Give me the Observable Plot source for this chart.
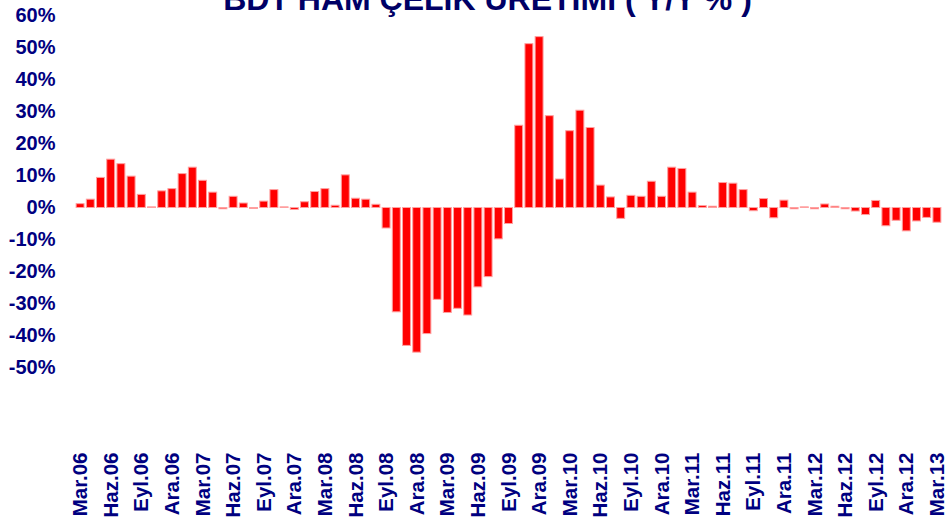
<!DOCTYPE html>
<html>
<head>
<meta charset="utf-8">
<script src="https://cdn.jsdelivr.net/npm/d3@7"></script>
<script src="https://cdn.jsdelivr.net/npm/@observablehq/plot@0.6"></script>
<style>
  html, body { margin: 0; padding: 0; background: #fff; overflow: hidden; }
  #wrap { position: relative; width: 947px; height: 525px; }
  #title { position: absolute; left: 0; width: 975px; top: -17px; text-align: center;
    font-family: "Liberation Sans", Arial, sans-serif; font-weight: bold; font-size: 32px;
    line-height: 32px; color: #000066; white-space: nowrap; z-index: 2; }
</style>
</head>
<body>
<div id="wrap"><div id="title">BDT HAM ÇELİK ÜRETİMİ ( Y/Y % )</div></div>
<script>
const months = [
  "Mar.06","Nis.06","May.06","Haz.06","Tem.06","Ağu.06","Eyl.06","Eki.06","Kas.06","Ara.06",
  "Oca.07","Şub.07","Mar.07","Nis.07","May.07","Haz.07","Tem.07","Ağu.07","Eyl.07","Eki.07","Kas.07","Ara.07",
  "Oca.08","Şub.08","Mar.08","Nis.08","May.08","Haz.08","Tem.08","Ağu.08","Eyl.08","Eki.08","Kas.08","Ara.08",
  "Oca.09","Şub.09","Mar.09","Nis.09","May.09","Haz.09","Tem.09","Ağu.09","Eyl.09","Eki.09","Kas.09","Ara.09",
  "Oca.10","Şub.10","Mar.10","Nis.10","May.10","Haz.10","Tem.10","Ağu.10","Eyl.10","Eki.10","Kas.10","Ara.10",
  "Oca.11","Şub.11","Mar.11","Nis.11","May.11","Haz.11","Tem.11","Ağu.11","Eyl.11","Eki.11","Kas.11","Ara.11",
  "Oca.12","Şub.12","Mar.12","Nis.12","May.12","Haz.12","Tem.12","Ağu.12","Eyl.12","Eki.12","Kas.12","Ara.12",
  "Oca.13","Şub.13","Mar.13"
];
const growth = [
  1.2, 2.6, 9.4, 15.1, 13.7, 9.8, 4.1, 0.2, 5.2, 5.9,
  10.6, 12.6, 8.5, 4.8, -0.4, 3.5, 1.4, -0.3, 2.0, 5.6, 0.2, -0.6,
  1.8, 5.0, 5.9, 0.7, 10.2, 2.9, 2.6, 1.0, -6.4, -32.6, -43.1, -45.2,
  -39.4, -28.7, -32.8, -31.5, -33.6, -24.8, -21.6, -9.8, -5.0, 25.7, 51.2, 53.4,
  28.7, 8.9, 24.0, 30.4, 25.0, 7.0, 3.3, -3.4, 3.8, 3.5, 8.2, 3.5,
  12.6, 12.2, 4.8, 0.6, 0.4, 7.8, 7.6, 5.6, -1.0, 2.8, -3.2, 2.3,
  -0.4, 0.2, -0.4, 1.1, 0.4, -0.4, -1.1, -2.2, 2.2, -5.7, -4.0, -7.3,
  -4.2, -3.1, -4.6
];
const tickLabels = [
  "Mar.06","Haz.06","Eyl.06","Ara.06","Mar.07","Haz.07","Eyl.07","Ara.07",
  "Mar.08","Haz.08","Eyl.08","Ara.08","Mar.09","Haz.09","Eyl.09","Ara.09",
  "Mar.10","Haz.10","Eyl.10","Ara.10","Mar.11","Haz.11","Eyl.11","Ara.11",
  "Mar.12","Haz.12","Eyl.12","Ara.12","Mar.13"
];
const yTicks = [-50, -40, -30, -20, -10, 0, 10, 20, 30, 40, 50, 60];

const data = months.map((m, i) => ({month: m, value: growth[i]}));

const chart = Plot.plot({
  width: 947,
  height: 525,
  marginLeft: 75,
  marginRight: 5,
  marginTop: 10,
  marginBottom: 80,
  style: {
    fontFamily: "'Liberation Sans', Arial, sans-serif",
    fontWeight: "bold",
    fontSize: "20px",
    color: "#000080",
    background: "white",
    overflow: "visible"
  },
  x: {domain: months, paddingInner: 0.22, paddingOuter: 0.11, align: 0.5, round: false},
  y: {domain: [-50, 60], range: [367.5, 15.5]},
  marks: [
    Plot.barY(data, {x: "month", y: "value", fill: "#ff0000", stroke: "#ffa0a0", strokeWidth: 1}),
    Plot.axisY({ticks: yTicks, tickFormat: d => d + "%", tickSize: 0, tickPadding: 20, label: null}),
    Plot.axisX({ticks: tickLabels, tickRotate: -90, tickSize: 0, tickPadding: 7, label: null, fontSize: 20.5})
  ]
});
document.getElementById("wrap").appendChild(chart);
</script>
</body>
</html>
